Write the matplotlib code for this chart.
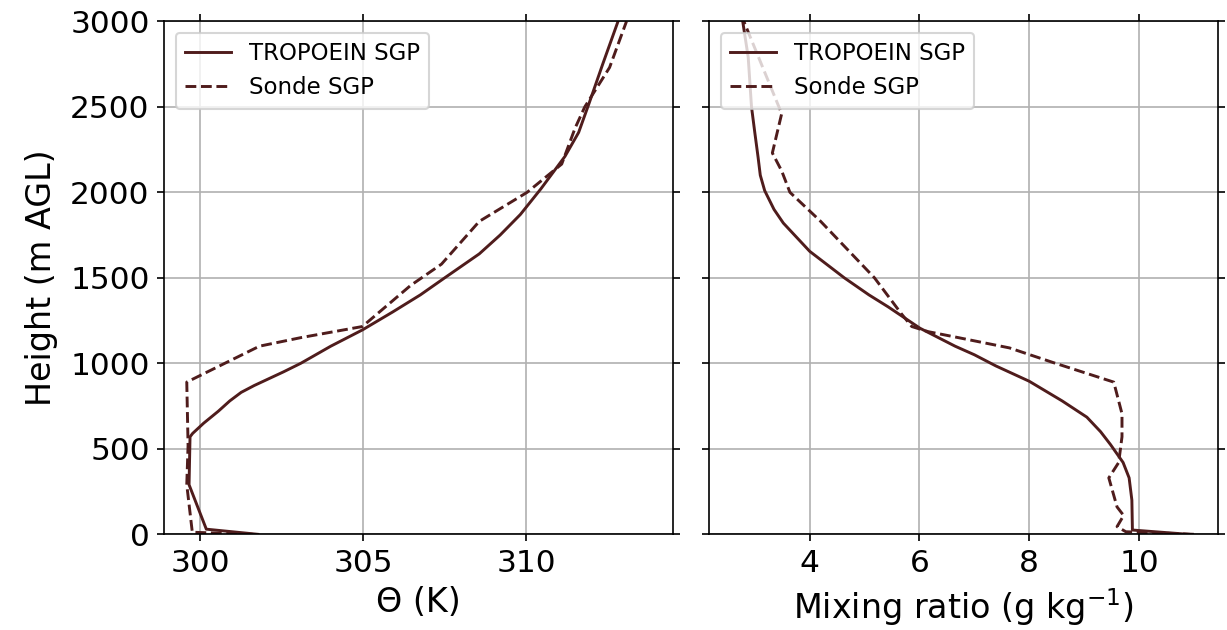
import matplotlib
matplotlib.use("Agg")
import matplotlib.pyplot as plt

# wysokosc (m AGL) i temperatura potencjalna (K)
h_trop_th = [0, 30, 290, 570, 590, 650, 720, 780, 830, 870, 910, 950, 1000,
             1100, 1195, 1300, 1400, 1500, 1640, 1750, 1870, 2020, 2210, 2350,
             2520, 2750, 3000]
th_trop = [301.76, 300.18, 299.65, 299.68, 299.76, 300.1, 300.55, 300.9,
           301.25, 301.65, 302.1, 302.55, 303.08, 304.0, 304.97, 305.9,
           306.75, 307.5, 308.56, 309.2, 309.82, 310.45, 311.19, 311.61,
           311.93, 312.35, 312.82]

h_sonde_th = [0, 12, 290, 520, 890, 1100, 1150, 1215, 1455, 1580, 1830,
              2000, 2165, 2375, 2500, 2730, 3000]
th_sonde = [301.6, 299.75, 299.58, 299.62, 299.58, 301.81, 303.08, 304.97,
            306.45, 307.4, 308.56, 310.03, 311.09, 311.5, 311.8, 312.56,
            313.08]

# stosunek zmieszania (g/kg)
h_trop_q = [0, 25, 200, 330, 420, 525, 600, 685, 780, 895, 985, 1050, 1100,
            1205, 1330, 1400, 1500, 1655, 1820, 1900, 2010, 2100, 2205, 2350,
            2500, 2790, 3000]
q_trop = [10.9, 9.88, 9.87, 9.82, 9.71, 9.48, 9.3, 9.05, 8.6, 8.0, 7.39, 7.0,
          6.65, 6.01, 5.43, 5.08, 4.63, 4.0, 3.52, 3.35, 3.18, 3.1, 3.06, 3.0,
          2.94, 2.88, 2.78]

h_sonde_q = [0, 15, 45, 110, 160, 330, 420, 570, 705, 890, 1005, 1090, 1150,
             1185, 1215, 1290, 1500, 1665, 1830, 2000, 2125, 2230, 2460, 3000]
q_sonde = [11.0, 9.76, 9.6, 9.72, 9.6, 9.45, 9.63, 9.69, 9.69, 9.54, 8.43,
           7.64, 6.71, 6.16, 5.86, 5.67, 5.18, 4.69, 4.2, 3.64, 3.49, 3.32,
           3.49, 2.8]

kolor = '#4f1c1c'

fig, (ax1, ax2) = plt.subplots(1, 2, figsize=(8.18, 4.2), dpi=150, sharey=True)
fig.subplots_adjust(left=0.1339, right=0.9927, bottom=0.1519, top=0.9662,
                    wspace=0.071)

ax1.plot(th_trop, h_trop_th, color=kolor, lw=1.4, label='TROPOEIN SGP')
ax1.plot(th_sonde, h_sonde_th, color=kolor, lw=1.4, linestyle='--', label='Sonde SGP')
ax1.set_xlim(298.89, 314.51)
ax1.set_ylim(0, 3000)
ax1.set_xticks([300, 305, 310])
ax1.set_xlabel('Θ (K)', fontsize=16)
ax1.set_ylabel('Height (m AGL)', fontsize=16, labelpad=6)

ax2.plot(q_trop, h_trop_q, color=kolor, lw=1.4, label='TROPOEIN SGP')
ax2.plot(q_sonde, h_sonde_q, color=kolor, lw=1.4, linestyle='--', label='Sonde SGP')
ax2.set_xlim(2.17, 11.44)
ax2.set_xticks([4, 6, 8, 10])
ax2.set_xlabel('Mixing ratio (g kg$^{-1}$)', fontsize=16)

for ax in (ax1, ax2):
    ax.grid(True)
    ax.tick_params(labelsize=15, top=True, right=True)
    ax.legend(loc='upper left', fontsize=11)

fig.savefig('out.png', dpi=150)
